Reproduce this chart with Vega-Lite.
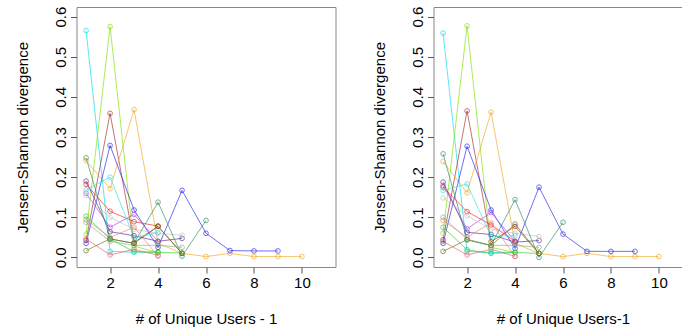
{
  "$schema": "https://vega.github.io/schema/vega-lite/v6.json",
  "padding": {"left": 14.5, "top": 5, "right": 0, "bottom": 0},
  "background": "white",
  "bounds": "flush",
  "spacing": 98,
  "config": {
    "font": "Liberation Sans",
    "view": {"stroke": "#888", "strokeWidth": 1},
    "axis": {"domain": false, "grid": false, "tickColor": "#555", "tickSize": 6, "labelPadding": 2, "labelFontSize": 15, "titleFontSize": 15, "titleFontWeight": "normal", "labelColor": "#000", "titleColor": "#000", "labelFont": "Liberation Sans", "titleFont": "Liberation Sans"}
  },
  "datasets": {
    "d": [
      {"p":"A","s":"S1","x":1,"y":0.565},{"p":"A","s":"S1","x":2,"y":0.015},{"p":"A","s":"S1","x":3,"y":0.013},{"p":"A","s":"S1","x":4,"y":0.014},
      {"p":"A","s":"S2","x":1,"y":0.058},{"p":"A","s":"S2","x":2,"y":0.575},{"p":"A","s":"S2","x":3,"y":0.028},{"p":"A","s":"S2","x":4,"y":0.012},
      {"p":"A","s":"S3","x":1,"y":0.042},{"p":"A","s":"S3","x":2,"y":0.359},{"p":"A","s":"S3","x":3,"y":0.037},{"p":"A","s":"S3","x":4,"y":0.0775},{"p":"A","s":"S3","x":5,"y":0.01},
      {"p":"A","s":"S4","x":1,"y":0.241},{"p":"A","s":"S4","x":2,"y":0.171},{"p":"A","s":"S4","x":3,"y":0.368},{"p":"A","s":"S4","x":4,"y":0.035},{"p":"A","s":"S4","x":5,"y":0.01},{"p":"A","s":"S4","x":6,"y":0.002},{"p":"A","s":"S4","x":7,"y":0.01},{"p":"A","s":"S4","x":8,"y":0.002},{"p":"A","s":"S4","x":9,"y":0.002},{"p":"A","s":"S4","x":10,"y":0.002},
      {"p":"A","s":"S5","x":1,"y":0.035},{"p":"A","s":"S5","x":2,"y":0.279},{"p":"A","s":"S5","x":3,"y":0.118},{"p":"A","s":"S5","x":4,"y":0.025},{"p":"A","s":"S5","x":5,"y":0.167},{"p":"A","s":"S5","x":6,"y":0.06},{"p":"A","s":"S5","x":7,"y":0.017},{"p":"A","s":"S5","x":8,"y":0.016},{"p":"A","s":"S5","x":9,"y":0.016},
      {"p":"A","s":"S6","x":1,"y":0.19},{"p":"A","s":"S6","x":2,"y":0.064},{"p":"A","s":"S6","x":3,"y":0.054},{"p":"A","s":"S6","x":4,"y":0.04},{"p":"A","s":"S6","x":5,"y":0.0475},
      {"p":"A","s":"S7","x":1,"y":0.16},{"p":"A","s":"S7","x":2,"y":0.075},{"p":"A","s":"S7","x":3,"y":0.107},{"p":"A","s":"S7","x":4,"y":0.04},
      {"p":"A","s":"S8","x":1,"y":0.182},{"p":"A","s":"S8","x":2,"y":0.115},{"p":"A","s":"S8","x":3,"y":0.089},{"p":"A","s":"S8","x":4,"y":0.078},
      {"p":"A","s":"S9","x":1,"y":0.154},{"p":"A","s":"S9","x":2,"y":0.1},{"p":"A","s":"S9","x":3,"y":0.07},{"p":"A","s":"S9","x":4,"y":0.06},{"p":"A","s":"S9","x":5,"y":0.055},
      {"p":"A","s":"S10","x":1,"y":0.248},{"p":"A","s":"S10","x":2,"y":0.046},{"p":"A","s":"S10","x":3,"y":0.035},{"p":"A","s":"S10","x":4,"y":0.1375},{"p":"A","s":"S10","x":5,"y":0.003},{"p":"A","s":"S10","x":6,"y":0.092},
      {"p":"A","s":"S11","x":1,"y":0.1025},{"p":"A","s":"S11","x":2,"y":0.046},{"p":"A","s":"S11","x":3,"y":0.014},{"p":"A","s":"S11","x":4,"y":0.012},{"p":"A","s":"S11","x":5,"y":0.011},
      {"p":"A","s":"S12","x":1,"y":0.094},{"p":"A","s":"S12","x":2,"y":0.05},{"p":"A","s":"S12","x":3,"y":0.075},{"p":"A","s":"S12","x":4,"y":0.003},
      {"p":"A","s":"S13","x":1,"y":0.017},{"p":"A","s":"S13","x":2,"y":0.046},{"p":"A","s":"S13","x":3,"y":0.035},{"p":"A","s":"S13","x":4,"y":0.077},{"p":"A","s":"S13","x":5,"y":0.01},
      {"p":"A","s":"S14","x":1,"y":0.046},{"p":"A","s":"S14","x":2,"y":0.006},{"p":"A","s":"S14","x":3,"y":0.02},{"p":"A","s":"S14","x":4,"y":0.005},
      {"p":"A","s":"S15","x":1,"y":0.168},{"p":"A","s":"S15","x":2,"y":0.2},{"p":"A","s":"S15","x":3,"y":0.049},{"p":"A","s":"S15","x":4,"y":0.062},
      {"p":"A","s":"S16","x":1,"y":0.0875},{"p":"A","s":"S16","x":2,"y":0.04},{"p":"A","s":"S16","x":3,"y":0.03},{"p":"A","s":"S16","x":4,"y":0.03},{"p":"A","s":"S16","x":5,"y":0.025},

      {"p":"B","s":"S1","x":1,"y":0.559},{"p":"B","s":"S1","x":2,"y":0.015},{"p":"B","s":"S1","x":3,"y":0.012},{"p":"B","s":"S1","x":4,"y":0.013},
      {"p":"B","s":"S2","x":1,"y":0.06},{"p":"B","s":"S2","x":2,"y":0.577},{"p":"B","s":"S2","x":3,"y":0.025},{"p":"B","s":"S2","x":4,"y":0.012},
      {"p":"B","s":"S3","x":1,"y":0.044},{"p":"B","s":"S3","x":2,"y":0.365},{"p":"B","s":"S3","x":3,"y":0.039},{"p":"B","s":"S3","x":4,"y":0.077},{"p":"B","s":"S3","x":5,"y":0.01},
      {"p":"B","s":"S4","x":1,"y":0.239},{"p":"B","s":"S4","x":2,"y":0.161},{"p":"B","s":"S4","x":3,"y":0.362},{"p":"B","s":"S4","x":4,"y":0.035},{"p":"B","s":"S4","x":5,"y":0.01},{"p":"B","s":"S4","x":6,"y":0.002},{"p":"B","s":"S4","x":7,"y":0.01},{"p":"B","s":"S4","x":8,"y":0.002},{"p":"B","s":"S4","x":9,"y":0.002},{"p":"B","s":"S4","x":10,"y":0.002},
      {"p":"B","s":"S5","x":1,"y":0.035},{"p":"B","s":"S5","x":2,"y":0.277},{"p":"B","s":"S5","x":3,"y":0.118},{"p":"B","s":"S5","x":4,"y":0.022},{"p":"B","s":"S5","x":5,"y":0.175},{"p":"B","s":"S5","x":6,"y":0.058},{"p":"B","s":"S5","x":7,"y":0.015},{"p":"B","s":"S5","x":8,"y":0.015},{"p":"B","s":"S5","x":9,"y":0.015},
      {"p":"B","s":"S6","x":1,"y":0.1875},{"p":"B","s":"S6","x":2,"y":0.0625},{"p":"B","s":"S6","x":3,"y":0.057},{"p":"B","s":"S6","x":4,"y":0.038},{"p":"B","s":"S6","x":5,"y":0.042},
      {"p":"B","s":"S7","x":1,"y":0.179},{"p":"B","s":"S7","x":2,"y":0.071},{"p":"B","s":"S7","x":3,"y":0.112},{"p":"B","s":"S7","x":4,"y":0.04},
      {"p":"B","s":"S8","x":1,"y":0.175},{"p":"B","s":"S8","x":2,"y":0.114},{"p":"B","s":"S8","x":3,"y":0.081},{"p":"B","s":"S8","x":4,"y":0.04},
      {"p":"B","s":"S9","x":1,"y":0.148},{"p":"B","s":"S9","x":2,"y":0.104},{"p":"B","s":"S9","x":3,"y":0.07},{"p":"B","s":"S9","x":4,"y":0.06},{"p":"B","s":"S9","x":5,"y":0.052},
      {"p":"B","s":"S10","x":1,"y":0.258},{"p":"B","s":"S10","x":2,"y":0.044},{"p":"B","s":"S10","x":3,"y":0.03},{"p":"B","s":"S10","x":4,"y":0.144},{"p":"B","s":"S10","x":5,"y":0.0},{"p":"B","s":"S10","x":6,"y":0.0875},
      {"p":"B","s":"S11","x":1,"y":0.075},{"p":"B","s":"S11","x":2,"y":0.019},{"p":"B","s":"S11","x":3,"y":0.01},{"p":"B","s":"S11","x":4,"y":0.012},{"p":"B","s":"S11","x":5,"y":0.01},
      {"p":"B","s":"S12","x":1,"y":0.092},{"p":"B","s":"S12","x":2,"y":0.05},{"p":"B","s":"S12","x":3,"y":0.086},{"p":"B","s":"S12","x":4,"y":0.003},
      {"p":"B","s":"S13","x":1,"y":0.015},{"p":"B","s":"S13","x":2,"y":0.044},{"p":"B","s":"S13","x":3,"y":0.029},{"p":"B","s":"S13","x":4,"y":0.083},{"p":"B","s":"S13","x":5,"y":0.01},
      {"p":"B","s":"S14","x":1,"y":0.04},{"p":"B","s":"S14","x":2,"y":0.006},{"p":"B","s":"S14","x":3,"y":0.02},{"p":"B","s":"S14","x":4,"y":0.0025},
      {"p":"B","s":"S15","x":1,"y":0.167},{"p":"B","s":"S15","x":2,"y":0.183},{"p":"B","s":"S15","x":3,"y":0.052},{"p":"B","s":"S15","x":4,"y":0.054},
      {"p":"B","s":"S16","x":1,"y":0.1},{"p":"B","s":"S16","x":2,"y":0.045},{"p":"B","s":"S16","x":3,"y":0.03},{"p":"B","s":"S16","x":4,"y":0.03},{"p":"B","s":"S16","x":5,"y":0.025}
    ]
  },
  "hconcat": [
    {
      "width": 259, "height": 260,
      "data": {"name": "d"},
      "transform": [{"filter": "datum.p == 'A'"}],
      "mark": {"type": "line", "strokeWidth": 1, "opacity": 0.65, "clip": true, "point": {"filled": false, "size": 22, "strokeWidth": 1, "opacity": 0.65}},
      "encoding": {
        "x": {"field": "x", "type": "quantitative", "scale": {"domain": [0.6, 11.4], "nice": false, "zero": false}, "axis": {"values": [2,4,6,8,10], "title": "# of Unique Users - 1", "titlePadding": 21}},
        "y": {"field": "y", "type": "quantitative", "scale": {"domain": [-0.024, 0.624], "nice": false, "zero": false}, "axis": {"values": [0,0.1,0.2,0.3,0.4,0.5,0.6], "format": ".1f", "labelAngle": 270, "labelAlign": "center", "labelBaseline": "bottom", "title": "Jensen-Shannon divergence", "titlePadding": 23}},
        "color": {"field": "s", "type": "nominal", "legend": null, "scale": {"domain": ["S1","S2","S3","S4","S5","S6","S7","S8","S9","S10","S11","S12","S13","S14","S15","S16"], "range": ["#00DDEE","#7FE000","#A52A2A","#EEA822","#2222EE","#4B2C8F","#B040F0","#EE2222","#C0C0C0","#2E8B57","#22CC22","#F08080","#6B6B10","#E06070","#33E0E0","#80B080"]}},
        "order": {"field": "x", "type": "quantitative"}
      }
    },
    {
      "width": 259, "height": 260,
      "data": {"name": "d"},
      "transform": [{"filter": "datum.p == 'B'"}],
      "mark": {"type": "line", "strokeWidth": 1, "opacity": 0.65, "clip": true, "point": {"filled": false, "size": 22, "strokeWidth": 1, "opacity": 0.65}},
      "encoding": {
        "x": {"field": "x", "type": "quantitative", "scale": {"domain": [0.6, 11.4], "nice": false, "zero": false}, "axis": {"values": [2,4,6,8,10], "title": "# of Unique Users-1", "titlePadding": 21}},
        "y": {"field": "y", "type": "quantitative", "scale": {"domain": [-0.024, 0.624], "nice": false, "zero": false}, "axis": {"values": [0,0.1,0.2,0.3,0.4,0.5,0.6], "format": ".1f", "labelAngle": 270, "labelAlign": "center", "labelBaseline": "bottom", "title": "Jensen-Shannon divergence", "titlePadding": 23}},
        "color": {"field": "s", "type": "nominal", "legend": null, "scale": {"domain": ["S1","S2","S3","S4","S5","S6","S7","S8","S9","S10","S11","S12","S13","S14","S15","S16"], "range": ["#00DDEE","#7FE000","#A52A2A","#EEA822","#2222EE","#4B2C8F","#B040F0","#EE2222","#C0C0C0","#2E8B57","#22CC22","#F08080","#6B6B10","#E06070","#33E0E0","#80B080"]}},
        "order": {"field": "x", "type": "quantitative"}
      }
    }
  ]
}
